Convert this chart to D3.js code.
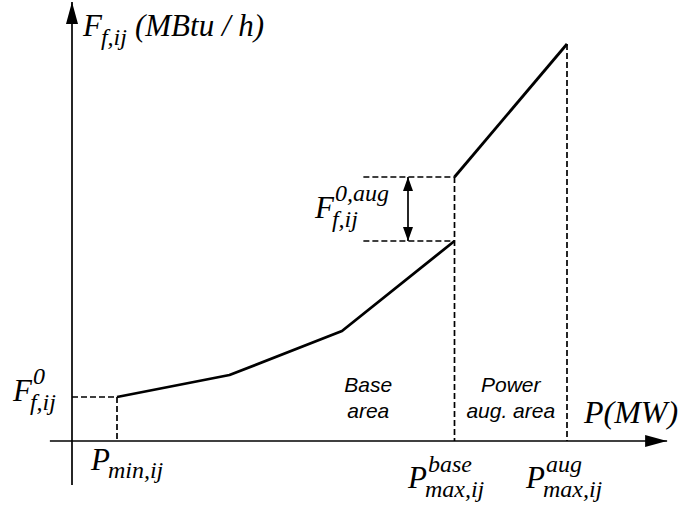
<!DOCTYPE html>
<html>
<head>
<meta charset="utf-8">
<script src="https://cdn.jsdelivr.net/npm/d3@7"></script>
<style>
  html, body { margin: 0; padding: 0; background: #fff; }
  svg { display: block; }
  .math { font-family: "Liberation Serif", "Times New Roman", serif; font-style: italic; fill: #000; }
  .area-label { font-family: "Liberation Sans", Arial, sans-serif; font-style: italic; font-size: 21px; fill: #000; }
</style>
</head>
<body>
<svg id="chart" width="692" height="508"></svg>
<script>
// Piecewise-linear fuel curve of a unit with a power augmentation segment
const basePower = [1.2, 4.2, 7.2, 10.2];     // MW (schematic)
const baseFuel  = [44, 66, 110, 200];        // MBtu/h (schematic)
const augPower  = [10.2, 13.2];
const augFuel   = [264, 397];

const pMin = basePower[0];
const pMaxBase = basePower[basePower.length - 1];
const pMaxAug = augPower[augPower.length - 1];
const fMin = baseFuel[0];
const fBaseEnd = baseFuel[baseFuel.length - 1];
const fAugStart = augFuel[0];

const xExtent = [-0.59, 15.87];   // axis span in P units
const yExtent = [-44, 439];       // axis span in F units

const svg = d3.select("#chart");
const x = d3.scaleLinear().domain([0, 16]).range([72, 672]);
const y = d3.scaleLinear().domain([0, 440]).range([441, 1]);

// arrowhead markers
const defs = svg.append("defs");
defs.append("marker").attr("id", "axisHead")
  .attr("viewBox", "0 0 22 12").attr("refX", 22).attr("refY", 6)
  .attr("markerWidth", 22).attr("markerHeight", 12)
  .attr("markerUnits", "userSpaceOnUse").attr("orient", "auto")
  .append("path").attr("d", "M0,0 L22,6 L0,12 Z").attr("fill", "#000");
defs.append("marker").attr("id", "dimHead")
  .attr("viewBox", "0 0 14 10").attr("refX", 14).attr("refY", 5)
  .attr("markerWidth", 14).attr("markerHeight", 10)
  .attr("markerUnits", "userSpaceOnUse").attr("orient", "auto-start-reverse")
  .append("path").attr("d", "M0,0 L14,5 L0,10 Z").attr("fill", "#000");

// axes
svg.append("line")
  .attr("x1", x(xExtent[0])).attr("y1", y(0))
  .attr("x2", x(xExtent[1])).attr("y2", y(0))
  .attr("stroke", "#000").attr("stroke-width", 1.7)
  .attr("marker-end", "url(#axisHead)");
svg.append("line")
  .attr("x1", x(0)).attr("y1", y(yExtent[0]))
  .attr("x2", x(0)).attr("y2", y(yExtent[1]))
  .attr("stroke", "#000").attr("stroke-width", 1.7)
  .attr("marker-end", "url(#axisHead)");

// dashed guides
const dashed = [
  [[0, fMin], [pMin, fMin]],
  [[pMin, fMin], [pMin, 0]],
  [[pMaxBase, fAugStart], [pMaxBase, 0]],
  [[pMaxAug, augFuel[1]], [pMaxAug, 0]],
  [[7.77, fAugStart], [pMaxBase, fAugStart]],
  [[7.77, fBaseEnd], [pMaxBase, fBaseEnd]]
];
svg.selectAll("line.guide").data(dashed).enter().append("line")
  .attr("class", "guide")
  .attr("x1", d => x(d[0][0])).attr("y1", d => y(d[0][1]))
  .attr("x2", d => x(d[1][0])).attr("y2", d => y(d[1][1]))
  .attr("stroke", "#000").attr("stroke-width", 1.7)
  .attr("stroke-dasharray", "6,3");

// fuel curve segments
const line = d3.line().x(d => x(d[0])).y(d => y(d[1]));
svg.append("path")
  .attr("d", line(d3.zip(basePower, baseFuel)))
  .attr("fill", "none").attr("stroke", "#000").attr("stroke-width", 2.8)
  .attr("stroke-linejoin", "round");
svg.append("path")
  .attr("d", line(d3.zip(augPower, augFuel)))
  .attr("fill", "none").attr("stroke", "#000").attr("stroke-width", 2.8);

// augmentation offset dimension arrow
const dimX = 8.96;
svg.append("line")
  .attr("x1", x(dimX)).attr("y1", y(fAugStart))
  .attr("x2", x(dimX)).attr("y2", y(fBaseEnd))
  .attr("stroke", "#000").attr("stroke-width", 1.7)
  .attr("marker-start", "url(#dimHead)")
  .attr("marker-end", "url(#dimHead)");

// math-style label with optional sub/superscript
function mathLabel(px, py, size, main, sub, sup, subSize, subDy, supDy) {
  const t = svg.append("text").attr("class", "math")
    .attr("x", px).attr("y", py).style("font-size", size + "px");
  t.append("tspan").text(main);
  const mainW = t.node().getComputedTextLength();
  if (sup) {
    svg.append("text").attr("class", "math")
      .attr("x", px + mainW + 1).attr("y", py + supDy)
      .style("font-size", subSize + "px").text(sup);
  }
  if (sub) {
    svg.append("text").attr("class", "math")
      .attr("x", px + mainW - 2).attr("y", py + subDy)
      .style("font-size", subSize + "px").text(sub);
  }
  return t;
}

// y-axis title
const yt = svg.append("text").attr("class", "math")
  .attr("x", 83).attr("y", 36).style("font-size", "31px");
yt.append("tspan").text("F");
yt.append("tspan").attr("dy", 9).attr("dx", -1).style("font-size", "24px").text("f,ij");
yt.append("tspan").attr("dy", -9).attr("dx", 8).text("(MBtu / h)");

// x-axis title
svg.append("text").attr("class", "math")
  .attr("x", 584).attr("y", 423).style("font-size", "32px").text("P(MW)");

// point labels
mathLabel(13, 401, 31, "F", "f,ij", "0", 24, 9, -17);
mathLabel(91, 470, 31, "P", "min,ij", null, 24, 8, 0);
mathLabel(408, 488, 31, "P", "max,ij", "base", 24, 9, -16);
mathLabel(526, 488, 31, "P", "max,ij", "aug", 24, 9, -16);
mathLabel(315, 218, 31, "F", "f,ij", "0,aug", 24, 9, -17);

// region labels
const regions = [
  { text: ["Base", "area"], p: 7.9 },
  { text: ["Power", "aug. area"], p: 11.7 }
];
regions.forEach(r => {
  r.text.forEach((s, i) => {
    svg.append("text").attr("class", "area-label")
      .attr("x", x(r.p)).attr("y", 392 + i * 26)
      .attr("text-anchor", "middle").text(s);
  });
});
</script>
</body>
</html>
